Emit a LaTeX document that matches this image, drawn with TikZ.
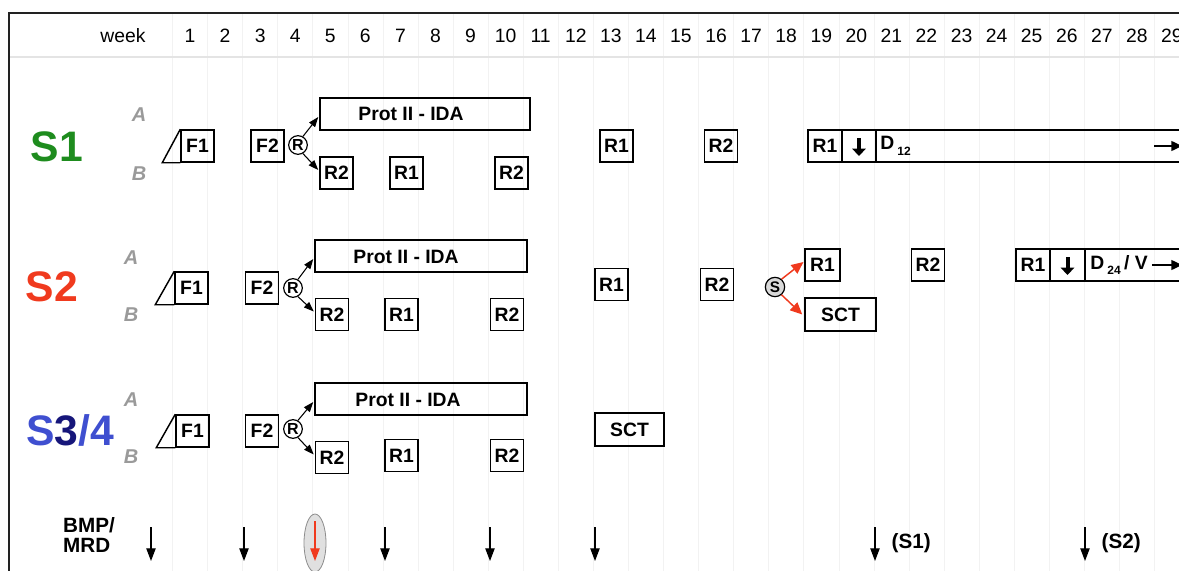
\documentclass[tikz,border=0pt]{standalone}
\usepackage{fontspec}
\setmainfont{Liberation Sans}
\usetikzlibrary{arrows.meta,calc,shapes.geometric}
\definecolor{sgreen}{HTML}{1E8C1E}
\definecolor{sred}{HTML}{F03A1E}
\definecolor{sblue}{HTML}{3F4FD0}
\definecolor{snavy}{HTML}{16167A}
\definecolor{abgray}{HTML}{9A9A9A}
\definecolor{gridc}{HTML}{F2F2F2}
\definecolor{sepc}{HTML}{E4E4E4}
\definecolor{framec}{HTML}{222222}
\begin{document}
\begin{tikzpicture}[x=0.75pt,y=-0.75pt,
  box/.style={draw, line width=1.1pt, inner sep=0pt, minimum width=24.75pt, minimum height=24pt,
    font=\fontsize{14.5}{16}\selectfont\bfseries},
  boxtext/.style={inner sep=0pt, font=\fontsize{14.5}{16}\selectfont\bfseries},
  boxline/.style={line width=1.1pt, line join=miter},
  rc/.style={draw, circle, line width=0.9pt, inner sep=0pt, minimum size=14pt,
    font=\fontsize{12}{13}\selectfont\bfseries},
  sc/.style={draw, circle, line width=0.9pt, fill=black!15, inner sep=0pt, minimum size=14.5pt,
    font=\fontsize{11.5}{12}\selectfont\bfseries},
  arr/.style={line width=0.8pt, -{Triangle[length=7.5pt,width=5.5pt]}},
  redarr/.style={draw=sred, line width=1.1pt, -{Triangle[length=9pt,width=8pt]}},
  thickdn/.style={line width=3pt, -{Triangle[length=5.5pt,width=10pt]}},
  endarr/.style={line width=1pt, -{Triangle[length=8pt,width=7.5pt]}},
  dnarr/.style={line width=0.9pt, -{Triangle[length=9.5pt,width=7pt]}},
  big/.style={font=\fontsize{32}{34}\selectfont\bfseries},
  ab/.style={text=abgray, font=\fontsize{15}{16}\selectfont\bfseries\itshape},
  hdr/.style={font=\fontsize{14.5}{16}\selectfont},
  bml/.style={font=\fontsize{15.5}{16}\selectfont\bfseries}
]
\useasboundingbox (0,0) rectangle (1179,571);
% grid
\foreach \k in {0,...,29} \draw[gridc, line width=0.5pt] ({172.5+35.07*\k},13) -- ({172.5+35.07*\k},571);
\draw[sepc, line width=1.5pt] (9,57) -- (1179,57);
\draw[framec, line width=1.5pt] (9,571) -- (9,13) -- (1185,13);
% header
\node[hdr] at (123,36) {week};
\foreach \n in {1,...,29} \node[hdr] at ({190+35.07*(\n-1)},36) {\n};

% ---------------- S1
\node[big, text=sgreen] (s1lab) at (57,147) {S1};
\node[ab] (s1A) at (139,115) {A};
\node[ab] (s1B) at (139,174) {B};
\node[box] (s1f1) at (197.5,146) {F1};
\draw[boxline] (s1f1.south west) -- ++(-18,0) -- (s1f1.north west);
\node[box] (s1f2) at (267.5,146) {F2};
\node[rc] (s1r) at (298,145) {R};
\node[box, minimum width=157.5pt] (s1p) at (425,114) {};
\node[boxtext] at (411,114) {Prot II - IDA};
\node[box] (s1b1) at (336.5,173) {R2};
\node[box] (s1b2) at (406.5,173) {R1};
\node[box] (s1b3) at (511.5,173) {R2};
\draw[arr] (s1r.60) -- ($(s1p.west)+(-1,3)$);
\draw[arr] (s1r.-60) -- ($(s1b1.west)+(-1,-3)$);
\node[box] (s1c) at (616.5,146) {R1};
\node[box] (s1d) at (721,146) {R2};
\node[box, minimum width=25.5pt] (s1e) at (825,146) {R1};
\node[box, minimum width=25.5pt] (s1g) at (859,146) {};
\draw[thickdn] ($(s1g.center)+(0,-8)$) -- ($(s1g.center)+(0,10)$);
\node[box, minimum width=250pt, anchor=west] (s1h) at (876,146) {};
\node[boxtext, anchor=west] (s1ht) at (880,146) {D\,\raisebox{-4pt}{\fontsize{9}{10}\selectfont 12}};
\coordinate (s1end) at (1182,146);
\draw[endarr] ($(s1end)+(-28,0)$) -- (s1end);

% ---------------- S2
\node[big, text=sred] (s2lab) at (52,287) {S2};
\node[ab] (s2A) at (131,258) {A};
\node[ab] (s2B) at (131,315) {B};
\node[box] (s2f1) at (191.5,288) {F1};
\draw[boxline] (s2f1.south west) -- ++(-19,0) -- (s2f1.north west);
\node[box] (s2f2) at (262,288) {F2};
\node[rc] (s2r) at (293,288) {R};
\node[box, minimum width=159pt] (s2p) at (421,256) {};
\node[boxtext] at (406,257) {Prot II - IDA};
\node[box] (s2b1) at (332,314.5) {R2};
\node[box] (s2b2) at (401.5,314.5) {R1};
\node[box] (s2b3) at (507,314.5) {R2};
\draw[arr] (s2r.60) -- ($(s2p.west)+(-1,3)$);
\draw[arr] (s2r.-60) -- ($(s2b1.west)+(-1,-3)$);
\node[box] (s2c) at (611.5,284.5) {R1};
\node[box] (s2d) at (717,284.5) {R2};
\node[sc] (s2s) at (775,287) {S};
\node[box, minimum width=26pt] (s2e) at (822.5,265) {R1};
\node[box, minimum width=53.25pt, minimum height=24.75pt] (s2sct) at (840.5,314.5) {SCT};
\draw[redarr] (s2s.50) -- ($(s2e.west)+(-1,-3)$);
\draw[redarr] (s2s.-50) -- ($(s2sct.west)+(-2,0)$);
\node[box] (s2f) at (928,265) {R2};
\node[box, minimum width=25.5pt] (s2g) at (1033,265) {R1};
\node[box, minimum width=26pt] (s2h) at (1067.5,265) {};
\draw[thickdn] ($(s2h.center)+(0,-8)$) -- ($(s2h.center)+(0,10)$);
\node[box, minimum width=100pt, anchor=west] (s2i) at (1085,265) {};
\node[boxtext, anchor=west] (s2it) at (1090,265) {D\,\raisebox{-4pt}{\fontsize{9}{10}\selectfont 24}\,/ V};
\coordinate (s2end) at (1182,265);
\draw[endarr] ($(s2it.east)+(4,0)$) -- (s2end);

% ---------------- S3/4
\node[big] (s3lab) at (70,430) {\textcolor{sblue}{S}\textcolor{snavy}{3}\textcolor{sblue}{/4}};
\node[ab] (s3A) at (131,400) {A};
\node[ab] (s3B) at (131,457) {B};
\node[box] (s3f1) at (192.5,431) {F1};
\draw[boxline] (s3f1.south west) -- ++(-19,0) -- (s3f1.north west);
\node[box] (s3f2) at (262,431) {F2};
\node[rc] (s3r) at (293,429) {R};
\node[box, minimum width=159pt] (s3p) at (421,399) {};
\node[boxtext] at (408,400) {Prot II - IDA};
\node[box] (s3b1) at (332,457.5) {R2};
\node[box] (s3b2) at (401.5,455.5) {R1};
\node[box] (s3b3) at (507,455.5) {R2};
\draw[arr] (s3r.60) -- ($(s3p.west)+(-1,3)$);
\draw[arr] (s3r.-60) -- ($(s3b1.west)+(-1,-3)$);
\node[box, minimum width=51.75pt, minimum height=24.75pt] (s3sct) at (629.5,429.5) {SCT};

% ---------------- BMP/MRD
\node[bml, align=left] (bmp) at (89,535) {BMP/\\[-1pt]MRD};
\foreach \i/\x in {1/151,2/244,3/385,4/490,5/595,6/875,7/1085}{
  \coordinate (m\i a) at (\x,527);
  \coordinate (m\i b) at (\x,561);
  \draw[dnarr] (m\i a) -- (m\i b);
}
\node[draw=black!45, fill=black!12, ellipse, minimum width=16.5pt, minimum height=43.5pt, inner sep=0pt, line width=0.6pt] (ell) at (315,543) {};
\coordinate (mra) at (315,521);
\coordinate (mrb) at (315,561);
\draw[dnarr, sred] (mra) -- (mrb);
\node[bml, anchor=west] (ls1) at (887,543) {(S1)};
\node[bml, anchor=west] (ls2) at (1097,543) {(S2)};
\end{tikzpicture}
\end{document}
